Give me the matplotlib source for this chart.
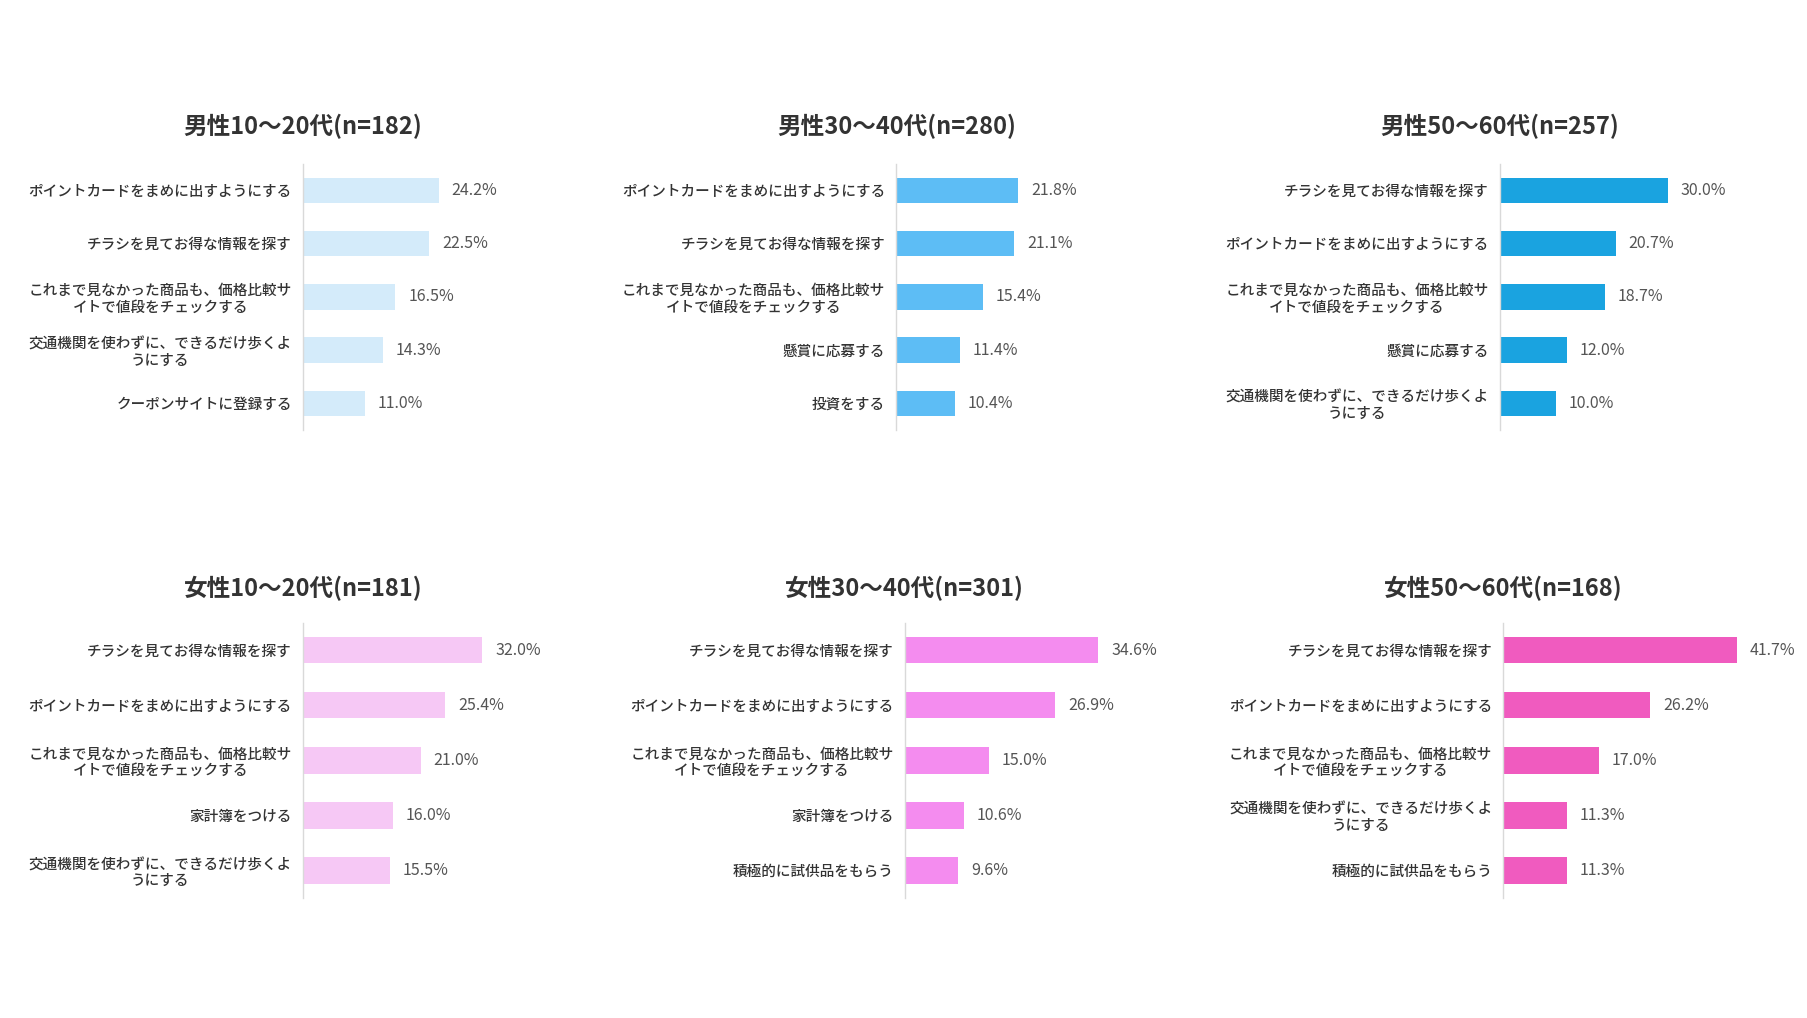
import matplotlib
matplotlib.use("Agg")
import matplotlib.pyplot as plt

plt.rcParams['font.family'] = ['Noto Sans CJK JP', 'DejaVu Sans']

L_POINT = "ポイントカードをまめに出すようにする"
L_FLYER = "チラシを見てお得な情報を探す"
L_PRICE = "これまで見なかった商品も、価格比較サ\nイトで値段をチェックする"
L_WALK = "交通機関を使わずに、できるだけ歩くよ\nうにする"
L_COUPON = "クーポンサイトに登録する"
L_PRIZE = "懸賞に応募する"
L_INVEST = "投資をする"
L_BOOK = "家計簿をつける"
L_SAMPLE = "積極的に試供品をもらう"

titles = ["男性10～20代(n=182)", "男性30～40代(n=280)", "男性50～60代(n=257)",
          "女性10～20代(n=181)", "女性30～40代(n=301)", "女性50～60代(n=168)"]

cats_m1020 = [L_POINT, L_FLYER, L_PRICE, L_WALK, L_COUPON]
vals_m1020 = [24.2, 22.5, 16.5, 14.3, 11.0]
cats_m3040 = [L_POINT, L_FLYER, L_PRICE, L_PRIZE, L_INVEST]
vals_m3040 = [21.8, 21.1, 15.4, 11.4, 10.4]
cats_m5060 = [L_FLYER, L_POINT, L_PRICE, L_PRIZE, L_WALK]
vals_m5060 = [30.0, 20.7, 18.7, 12.0, 10.0]
cats_f1020 = [L_FLYER, L_POINT, L_PRICE, L_BOOK, L_WALK]
vals_f1020 = [32.0, 25.4, 21.0, 16.0, 15.5]
cats_f3040 = [L_FLYER, L_POINT, L_PRICE, L_BOOK, L_SAMPLE]
vals_f3040 = [34.6, 26.9, 15.0, 10.6, 9.6]
cats_f5060 = [L_FLYER, L_POINT, L_PRICE, L_WALK, L_SAMPLE]
vals_f5060 = [41.7, 26.2, 17.0, 11.3, 11.3]

colors = ["#d4ebfa", "#5dbdf5", "#1aa3e0", "#f6c8f5", "#f48cef", "#f05bbf"]

panels = [
    (cats_m1020, vals_m1020), (cats_m3040, vals_m3040), (cats_m5060, vals_m5060),
    (cats_f1020, vals_f1020), (cats_f3040, vals_f3040), (cats_f5060, vals_f5060),
]

fig = plt.figure(figsize=(18.07, 10.18), dpi=100)

lefts = [0.1677, 0.496, 0.830, 0.1677, 0.5006, 0.832]
bottoms = [0.5776, 0.5776, 0.5776, 0.1178, 0.1178, 0.1178]
heights = [0.2616, 0.2616, 0.2616, 0.2707, 0.2707, 0.2707]
title_y = [0.8754, 0.8754, 0.8754, 0.4224, 0.4224, 0.4224]
width = 0.155

for i, (cats, vals) in enumerate(panels):
    ax = fig.add_axes([lefts[i], bottoms[i], width, heights[i]])
    ypos = list(range(len(cats)))
    ax.barh(ypos, vals, height=0.48, color=colors[i])
    ax.set_xlim(0, 50)
    ax.set_ylim(len(cats) - 0.5, -0.5)
    ax.set_yticks(ypos)
    ax.set_yticklabels(cats, fontsize=10.5, color="#333333", linespacing=1.2,
                       fontweight='medium')
    for t in ax.get_yticklabels():
        t.set_multialignment('center')
    ax.tick_params(axis='y', length=0, pad=8)
    ax.set_xticks([])
    for s in ['top', 'right', 'bottom']:
        ax.spines[s].set_visible(False)
    ax.spines['left'].set_color('#d9d9d9')
    ax.spines['left'].set_linewidth(1.0)
    for y, v in zip(ypos, vals):
        ax.text(v + 2.3, y, f"{v:.1f}%", va='center', ha='left',
                fontsize=11.5, color="#555555", clip_on=False)
    fig.text(lefts[i], title_y[i], titles[i], ha='center', va='center',
             fontsize=17, fontweight='bold', color="#333333")

fig.savefig("out.png", dpi=100, facecolor='white')
